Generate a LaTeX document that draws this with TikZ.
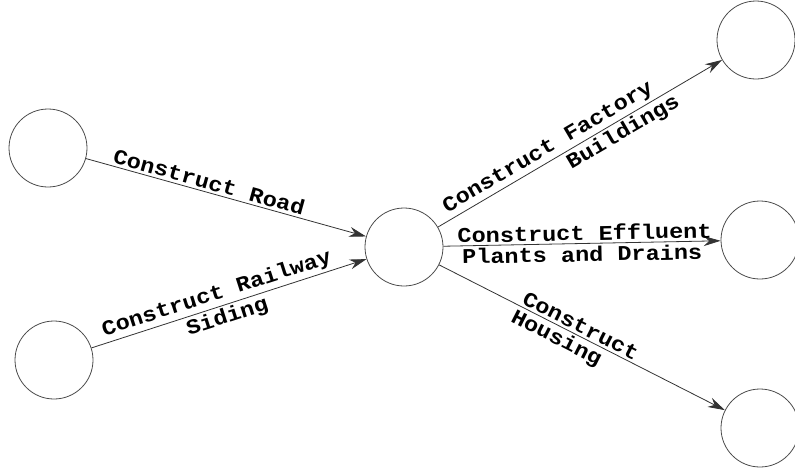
\documentclass[tikz,border=0pt]{standalone}
\usepackage{fontspec}
\setmonofont{Liberation Mono}[FakeStretch=1.12]
\usetikzlibrary{arrows.meta}
\tikzset{
  event/.style={circle,draw=black!70,line width=0.8pt,minimum size=78pt,inner sep=0pt},
  act/.style={-{Stealth[length=17pt,width=10pt]},line width=0.8pt,draw=black!80},
  lbl/.style={font=\fontsize{21}{23}\selectfont\ttfamily\bfseries,sloped,inner sep=2.5pt},
}
\begin{document}
\begin{tikzpicture}[x=1pt,y=-1pt]
\useasboundingbox (0,0) rectangle (795,475);
% events
\node[event] (road) at (48,148) {};
\node[event] (rail) at (54,360) {};
\node[event] (hub) at (404,247) {};
\node[event] (fact) at (756,40) {};
\node[event] (effl) at (760,240) {};
\node[event] (hous) at (760,428) {};
% activities
\draw[act] (road) -- node[lbl,above,pos=0.43]{Construct Road} (hub);
\draw[act] (rail) -- node[lbl,above,pos=0.47]{Construct Railway}
  node[lbl,below,pos=0.48]{Siding} (hub);
\draw[act] (hub) -- node[lbl,above,pos=0.41]{Construct Factory}
  node[lbl,below,pos=0.63]{Buildings} (fact);
\draw[act] (hub) -- node[lbl,above,pos=0.51]{Construct Effluent}
  node[lbl,below,pos=0.5]{Plants and Drains} (effl);
\draw[act] (hub) -- node[lbl,above,pos=0.48]{Construct}
  node[lbl,below,pos=0.43]{Housing} (hous);
\end{tikzpicture}
\end{document}
